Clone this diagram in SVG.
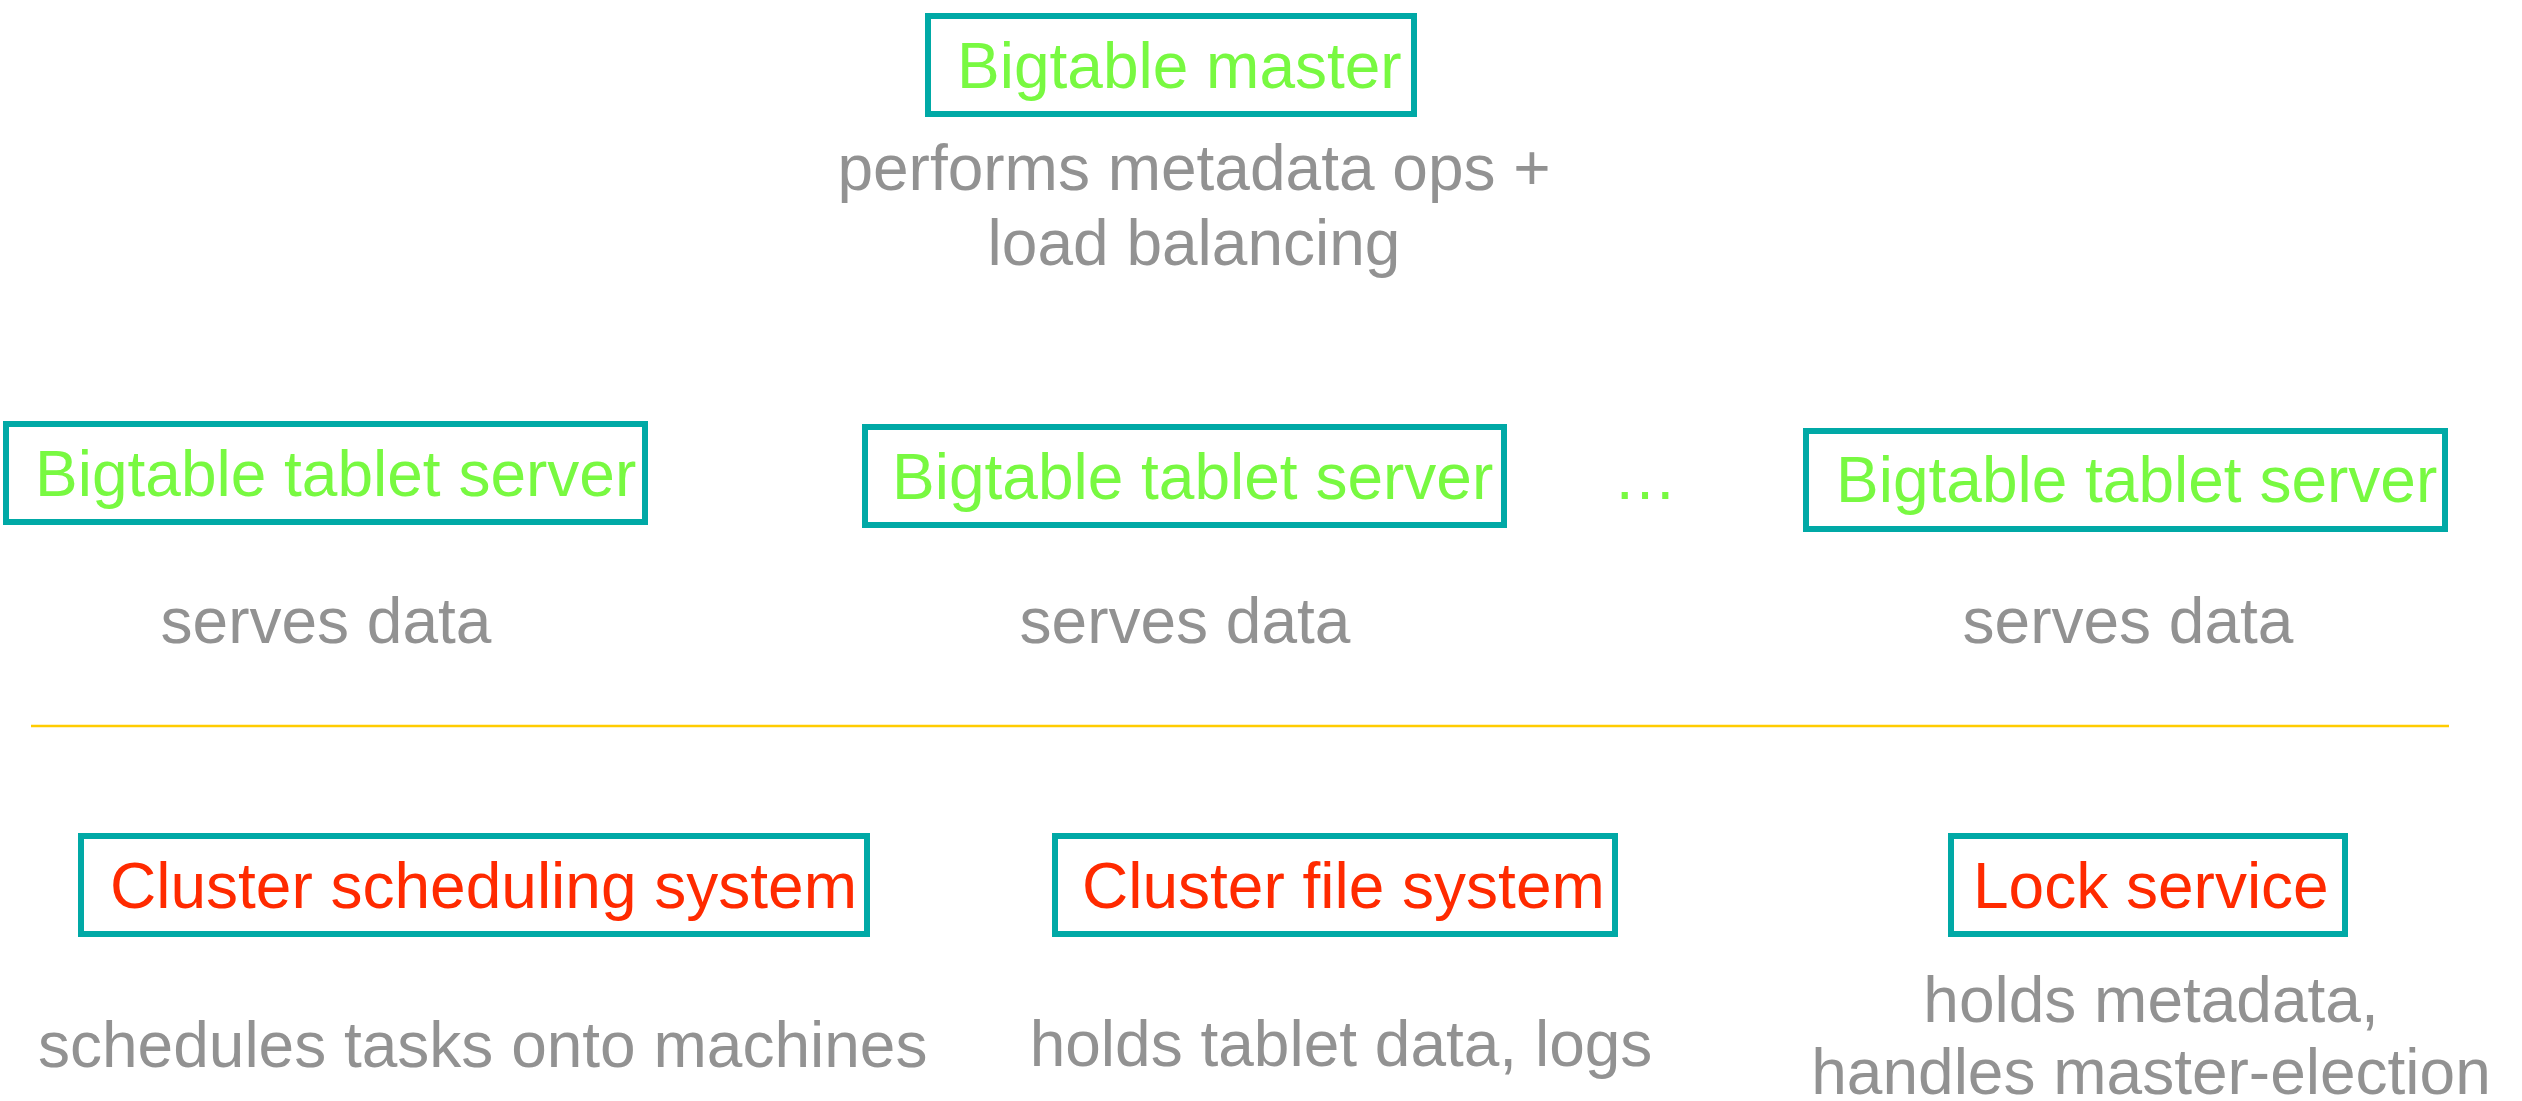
<svg xmlns="http://www.w3.org/2000/svg" width="2522" height="1101" viewBox="0 0 2522 1101">
<style>
text{font-family:"Liberation Sans",Arial,sans-serif;font-size:64px}
.box{fill:#ffffff;stroke:#00a9a6;stroke-width:6}
.g{fill:#78f941}
.r{fill:#ff2a00}
.d{fill:#929292}
.m{text-anchor:middle}
</style>
<rect width="2522" height="1101" fill="#ffffff"/>
<g id="connectors">
<line x1="31" y1="726" x2="2449" y2="726" stroke="#ffcc00" stroke-width="2.5"/>
</g>
<g id="master">
<rect class="box" x="928" y="16" width="486" height="98"/>
<text class="g" x="957" y="88">Bigtable master</text>
<text class="d m" x="1194" y="190">performs metadata ops +</text>
<text class="d m" x="1194" y="265">load balancing</text>
</g>
<g id="tablet1">
<rect class="box" x="6" y="424" width="639" height="98"/>
<text class="g" x="35" y="496">Bigtable tablet server</text>
<text class="d m" x="326" y="643">serves data</text>
</g>
<g id="tablet2">
<rect class="box" x="865" y="427" width="639" height="98"/>
<text class="g" x="892" y="499">Bigtable tablet server</text>
<text class="d m" x="1185" y="643">serves data</text>
</g>
<g id="ellipsis">
<text class="g" x="1613" y="499">…</text>
</g>
<g id="tablet3">
<rect class="box" x="1806" y="431" width="639" height="98"/>
<text class="g" x="1836" y="502">Bigtable tablet server</text>
<text class="d m" x="2128" y="643">serves data</text>
</g>
<g id="scheduler">
<rect class="box" x="81" y="836" width="786" height="98"/>
<text class="r" x="110" y="908">Cluster scheduling system</text>
<text class="d" x="38" y="1067">schedules tasks onto machines</text>
</g>
<g id="filesystem">
<rect class="box" x="1055" y="836" width="560" height="98"/>
<text class="r" x="1082" y="908">Cluster file system</text>
<text class="d m" x="1341" y="1066">holds tablet data, logs</text>
</g>
<g id="lock">
<rect class="box" x="1951" y="836" width="394" height="98"/>
<text class="r" x="1973" y="908">Lock service</text>
<text class="d m" x="2151" y="1022">holds metadata,</text>
<text class="d m" x="2151" y="1094">handles master-election</text>
</g>
</svg>
